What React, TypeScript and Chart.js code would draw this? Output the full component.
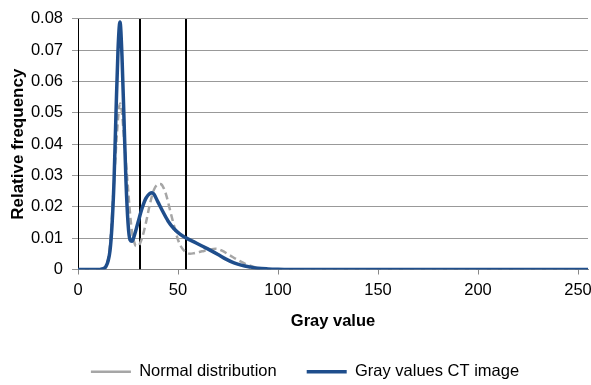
import React, { useEffect, useRef } from "react";
import { Chart, registerables } from "chart.js";

Chart.register(...registerables);

const ctX = [0, 10, 12, 14, 16, 17, 18, 19, 20, 21, 22, 23, 24, 25, 26, 27, 28, 30, 32, 34, 36, 37, 38, 40, 42, 45, 48, 51, 54, 58, 62, 66, 70, 74, 78, 82, 86, 90, 95, 100, 110, 150, 200, 255];
const ctY = [0, 0, 0.0002, 0.001, 0.006, 0.014, 0.028, 0.05, 0.07, 0.079, 0.068, 0.048, 0.028, 0.015, 0.0095, 0.009, 0.0105, 0.015, 0.0195, 0.0228, 0.0243, 0.0245, 0.024, 0.0215, 0.019, 0.0155, 0.013, 0.0113, 0.0101, 0.0088, 0.0075, 0.0062, 0.0048, 0.0033, 0.0021, 0.0013, 0.0008, 0.0004, 0.0002, 0.0001, 0, 0, 0, 0];

const normX = [0, 12, 14, 16, 18, 20, 21, 22, 23, 24, 25, 26, 27, 28, 29, 30, 32, 34, 36, 38, 40, 41, 42, 44, 46, 48, 50, 52, 54, 56, 58, 62, 66, 69, 72, 76, 80, 84, 88, 92, 96, 100, 150, 200, 255];
const normY = [0, 0, 0.001, 0.008, 0.028, 0.048, 0.053, 0.05, 0.042, 0.034, 0.026, 0.018, 0.012, 0.009, 0.0075, 0.0075, 0.01, 0.015, 0.021, 0.0255, 0.0272, 0.0273, 0.027, 0.024, 0.019, 0.014, 0.0095, 0.0068, 0.0055, 0.005, 0.0052, 0.0058, 0.0064, 0.0066, 0.006, 0.0045, 0.003, 0.0017, 0.0008, 0.0003, 0.0001, 0, 0, 0, 0];

const thresholds = [0, 31, 54];
const xTicks = [0, 50, 100, 150, 200, 250];
const xMax = 255;
const yMax = 0.08;

const FONT = "'Liberation Sans', Arial, sans-serif";
const FS = 16.5;

export default function App() {
  const ref = useRef<HTMLCanvasElement>(null);
  useEffect(() => {
    const ctx = ref.current!.getContext("2d")!;
    const pts = (xs: number[], ys: number[]) => xs.map((x, i) => ({ x, y: ys[i] }));
    const lineSets = thresholds.map((t) => ({
      label: "_t" + t,
      data: [{ x: t, y: 0 }, { x: t, y: yMax }],
      borderColor: "#000",
      borderWidth: 2,
      pointRadius: 0,
      showLine: true,
      tension: 0,
    }));
    const chart = new Chart(ctx, {
      type: "scatter",
      data: {
        datasets: [
          {
            label: "Gray values CT image",
            data: pts(ctX, ctY),
            borderColor: "#1f4e8c",
            backgroundColor: "#1f4e8c",
            borderWidth: 3.5,
            pointRadius: 0,
            showLine: true,
            cubicInterpolationMode: "monotone",
          },
          {
            label: "Normal distribution",
            data: pts(normX, normY),
            borderColor: "#a6a6a6",
            backgroundColor: "#a6a6a6",
            borderWidth: 2.5,
            borderDash: [7, 4],
            pointRadius: 0,
            showLine: true,
            cubicInterpolationMode: "monotone",
          },
          ...lineSets,
        ] as any,
      },
      options: {
        animation: false,
        responsive: false,
        layout: { padding: { left: 22, right: 3, top: 18, bottom: 0 } },
        plugins: {
          tooltip: { enabled: false },
          legend: {
            position: "bottom",
            labels: {
              filter: (item: any) => !String(item.text).startsWith("_"),
              sort: (a: any, b: any) => b.datasetIndex - a.datasetIndex,
              usePointStyle: true,
              pointStyle: "line",
              pointStyleWidth: 40,
              boxHeight: 10,
              padding: 30,
              color: "#000",
              font: { family: FONT, size: FS },
            },
          },
        },
        scales: {
          x: {
            type: "linear",
            min: 0,
            max: xMax,
            afterBuildTicks: (s: any) => {
              s.ticks = xTicks.map((v) => ({ value: v }));
            },
            ticks: {
              color: "#000",
              font: { family: FONT, size: FS },
              padding: 6,
              maxRotation: 0,
            },
            grid: { drawOnChartArea: false, drawTicks: true, tickLength: 5, color: "#888" },
            border: { color: "#888", width: 1 },
            title: {
              display: true,
              text: "Gray value",
              color: "#000",
              font: { family: FONT, size: FS, weight: "bold" },
              padding: { top: 0, bottom: 2 },
            },
            afterFit: (s: any) => {
              s.height = 64;
              s.paddingLeft = 0;
              s.paddingRight = 0;
            },
          },
          y: {
            min: 0,
            max: yMax,
            ticks: {
              stepSize: 0.01,
              color: "#000",
              font: { family: FONT, size: FS },
              padding: 9,
              callback: (v: any) => (v === 0 ? "0" : Number(v).toFixed(2)),
            },
            grid: { color: "#999", tickLength: 6, lineWidth: 1 },
            border: { color: "#888", width: 1 },
            title: {
              display: true,
              text: "Relative frequency",
              color: "#000",
              font: { family: FONT, size: 17, weight: "bold" },
              padding: { top: -14, bottom: 0 },
            },
            afterFit: (s: any) => { s.width = 56; },
          },
        },
      },
    });
    return () => chart.destroy();
  }, []);
  return (
    <div style={{ position: "absolute", left: 0, top: 0, width: 591, height: 385, overflow: "hidden", background: "#fff" }}>
      <canvas ref={ref} width={591} height={390} style={{ display: "block" }} />
    </div>
  );
}
